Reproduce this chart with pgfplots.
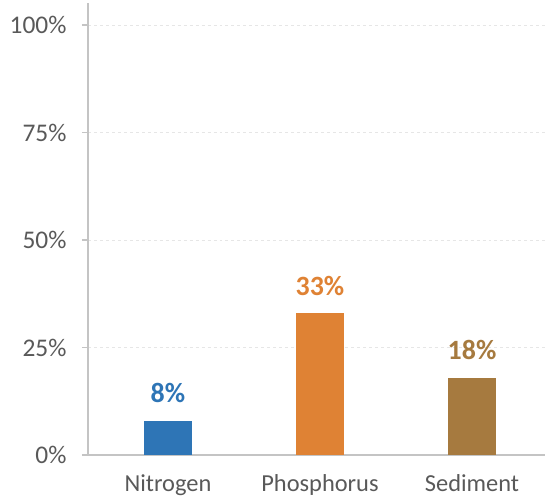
\documentclass[border=0pt]{standalone}
\usepackage{pgfplots}
\pgfplotsset{compat=1.18}
\usepackage{fontspec}
\setmainfont{Carlito}
\definecolor{nblue}{HTML}{2E75B6}
\definecolor{porange}{HTML}{DF8234}
\definecolor{sbrown}{HTML}{A67A3F}
\definecolor{tickgray}{HTML}{595959}
\definecolor{axgray}{HTML}{C4C4C4}
\definecolor{gridgray}{HTML}{E6E6E6}
\begin{document}
\begin{tikzpicture}
\path[use as bounding box] (-88bp,-44bp) rectangle (457bp,455bp);
\begin{axis}[
  at={(0,0)}, anchor=south west,
  scale only axis,
  width=457bp, height=451.5bp,
  xmin=-0.526, xmax=2.48,
  ymin=0, ymax=105,
  axis x line*=bottom,
  axis y line*=left,
  axis line style={draw=axgray, line width=1.5bp},
  xtick={0,1,2},
  xticklabels={Nitrogen,Phosphorus,Sediment},
  ytick={0,25,50,75,100},
  yticklabels={0\%,25\%,50\%,75\%,100\%},
  major x tick style={draw=none},
  major y tick style={draw=axgray, line width=1.5bp},
  tick align=outside,
  major tick length=6bp,
  ymajorgrids,
  grid style={draw=gridgray, dashed, line width=0.8bp},
  xticklabel style={font=\fontsize{24.5}{28}\selectfont, text=tickgray, yshift=-10bp},
  yticklabel style={font=\fontsize{25.5}{29}\selectfont, text=tickgray, xshift=-12bp},
  /pgf/number format/assume math mode=true,
  bar width=48bp,
  ybar, bar shift=0pt,
  nodes near coords={\pgfmathprintnumber{\pgfplotspointmeta}\%},
  nodes near coords style={font=\bfseries\fontsize{28}{31}\selectfont, anchor=south, yshift=14bp},
  clip=false,
]
\addplot[fill=nblue, draw=none, nodes near coords style={text=nblue}] coordinates {(0,8)};
\addplot[fill=porange, draw=none, nodes near coords style={text=porange}] coordinates {(1,33)};
\addplot[fill=sbrown, draw=none, nodes near coords style={text=sbrown}] coordinates {(2,18)};
\end{axis}
\end{tikzpicture}
\end{document}
